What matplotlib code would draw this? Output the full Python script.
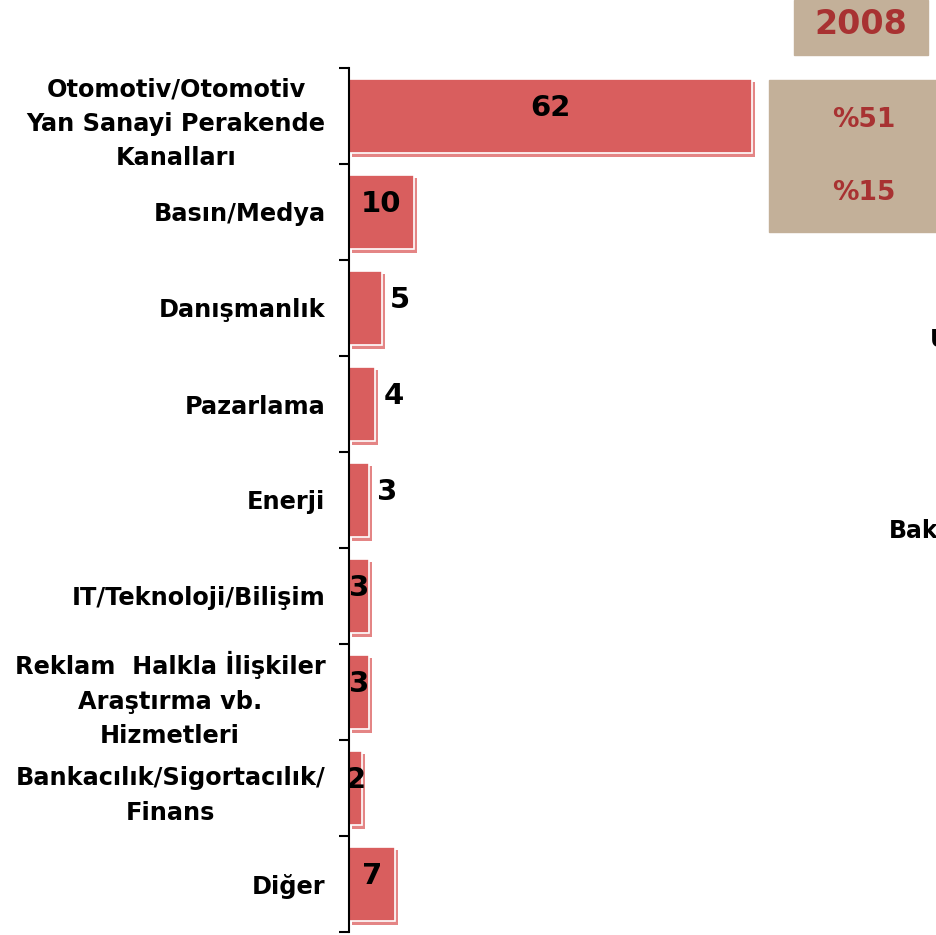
import matplotlib
matplotlib.use("Agg")
import matplotlib.pyplot as plt
import matplotlib.patheffects as pe
from matplotlib.patches import Rectangle

CATEGORIES = [
    "Otomotiv/Otomotiv\nYan Sanayi Perakende\nKanalları",
    "Basın/Medya",
    "Danışmanlık",
    "Pazarlama",
    "Enerji",
    "IT/Teknoloji/Bilişim",
    "Reklam  Halkla İlişkiler\nAraştırma vb.\nHizmetleri",
    "Bankacılık/Sigortacılık/\nFinans",
    "Diğer",
]
VALUES = [62, 10, 5, 4, 3, 3, 3, 2, 7]
# label placed outside the bar end (True) or centred in the bar (False)
OUTSIDE = [False, False, True, True, True, False, False, False, False]

YEAR = "2008"
SHARES = ["%51", "%15"]
CUT_TEXTS = [("U", 930, 340), ("Bak", 889, 531)]

BAR = "#d95e5e"
SHADOW = "#e48585"
TAN = "#c3b099"
DARKRED = "#a83232"

W, H = 936, 935
fig = plt.figure(figsize=(W / 100, H / 100), dpi=100)
ax = fig.add_axes([349 / W, 1 - 932 / H, (W - 349) / W, 864 / H])

y = list(range(len(VALUES)))
bars = ax.barh(y, VALUES, height=0.78, color=BAR, edgecolor="white", linewidth=1.2)
for b in bars:
    b.set_path_effects([pe.SimplePatchShadow(offset=(2.5, -2.5), shadow_rgbFace=SHADOW, alpha=1.0),
                        pe.Normal()])

ax.set_xlim(0, 62 * (W - 349) / (752 - 349))
ax.set_ylim(len(VALUES) - 0.5, -0.5)

for i, (v, out) in enumerate(zip(VALUES, OUTSIDE)):
    if out:
        ax.annotate(str(v), (v, i - 0.08), xytext=(6, 0), textcoords="offset points",
                    ha="left", va="center", fontsize=21, fontweight="bold")
    else:
        ax.text(v / 2, i - 0.08, str(v), ha="center", va="center", fontsize=21, fontweight="bold")

ax.set_yticks([i - 0.5 for i in range(len(VALUES) + 1)])
ax.set_yticklabels([])
ax.set_yticks(y, minor=True)
ax.set_yticklabels(CATEGORIES, minor=True, fontsize=17.3, fontweight="bold",
                   linespacing=1.55, multialignment="center")
ax.tick_params(axis="y", which="major", length=7, width=1.5, direction="out")
ax.tick_params(axis="y", which="minor", length=0, pad=17)
ax.set_xticks([])
for s in ["top", "right", "bottom"]:
    ax.spines[s].set_visible(False)
ax.spines["left"].set_linewidth(1.5)
ax.set_facecolor("none")

# boxes on the right
fig.patches.append(Rectangle((794 / W, 1 - 55 / H), 134 / W, 55 / H,
                             transform=fig.transFigure, color=TAN, zorder=0))
fig.patches.append(Rectangle((769 / W, 1 - 232 / H), (W - 769) / W, 152 / H,
                             transform=fig.transFigure, color=TAN, zorder=0))
fig.text(861 / W, 1 - 24 / H, YEAR, ha="center", va="center", fontsize=24,
         fontweight="bold", color=DARKRED)
for txt, yy in zip(SHARES, [120, 193]):
    fig.text(864 / W, 1 - yy / H, txt, ha="center", va="center", fontsize=19,
             fontweight="bold", color=DARKRED)
for txt, xx, yy in CUT_TEXTS:
    fig.text(xx / W, 1 - yy / H, txt, ha="left", va="center", fontsize=17, fontweight="bold")

fig.savefig("out.png", dpi=100)
